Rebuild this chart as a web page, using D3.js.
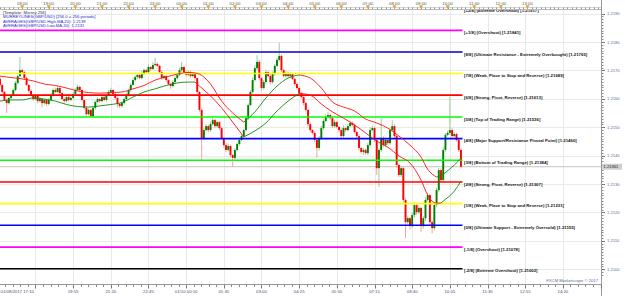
<!DOCTYPE html>
<html><head><meta charset="utf-8">
<script src="https://cdn.jsdelivr.net/npm/d3@7"></script>
<style>html,body{margin:0;padding:0;background:#fff;overflow:hidden}svg{display:block}text{font-family:"Liberation Sans",Arial,sans-serif}</style>
</head><body><svg id="c" width="625" height="296"></svg>
<script>
// ---------------- DATA ----------------
const startTime = "2017-01-09 17:10";      // first 5-minute candle
const candleMinutes = 5;
// prices are stored as 1e-5 units above 1.20000 (e.g. 1649 -> 1.21649)
const opens = [1670,1649,1624,1596,1585,1603,1613,1631,1656,1680,
 1701,1694,1673,1649,1628,1613,1599,1610,1592,1599,
 1585,1596,1582,1596,1613,1631,1624,1638,1620,1599,
 1592,1606,1596,1603,1617,1631,1642,1631,1596,1568,
 1546,1561,1539,1568,1589,1599,1592,1606,1596,1613,
 1624,1631,1617,1603,1582,1575,1585,1599,1613,1631,
 1649,1666,1677,1684,1673,1691,1701,1694,1712,1705,
 1719,1723,1716,1694,1673,1680,1666,1652,1645,1659,
 1673,1684,1701,1712,1694,1684,1694,1680,1687,1673,
 1624,1561,1462,1490,1504,1490,1511,1525,1504,1518,
 1497,1462,1437,1420,1434,1402,1392,1420,1441,1455,
 1469,1490,1532,1578,1624,1666,1708,1730,1673,1638,
 1659,1694,1680,1659,1687,1716,1737,1751,1701,1680,
 1691,1680,1687,1670,1652,1638,1620,1606,1585,1561,
 1511,1490,1480,1455,1427,1462,1497,1522,1536,1543,
 1532,1504,1518,1501,1490,1469,1497,1490,1504,1515,
 1508,1483,1469,1427,1413,1420,1409,1437,1490,1497,
 1455,1356,1420,1462,1437,1455,1444,1490,1504,1469,
 1367,1332,1356,1244,1166,1180,1152,1191,1226,1201,
 1216,1152,1180,1244,1261,1166,1145,1226,1279,1349,
 1314,1420,1473,1480,1490,1469,1476,1455,1420];
const closes = [1649,1624,1596,1585,1603,1613,1631,1656,1680,1701,
 1694,1673,1649,1628,1613,1599,1610,1592,1599,1585,
 1596,1582,1596,1613,1631,1624,1638,1620,1599,1592,
 1606,1596,1603,1617,1631,1642,1631,1596,1568,1546,
 1561,1539,1568,1589,1599,1592,1606,1596,1613,1624,
 1631,1617,1603,1582,1575,1585,1599,1613,1631,1649,
 1666,1677,1684,1673,1691,1701,1694,1712,1705,1719,
 1723,1716,1694,1673,1680,1666,1652,1645,1659,1673,
 1684,1701,1712,1694,1684,1694,1680,1687,1673,1624,
 1561,1462,1490,1504,1490,1511,1525,1504,1518,1497,
 1462,1437,1420,1434,1402,1392,1420,1441,1455,1469,
 1490,1532,1578,1624,1666,1708,1730,1673,1638,1659,
 1694,1680,1659,1687,1716,1737,1751,1701,1680,1691,
 1680,1687,1670,1652,1638,1620,1606,1585,1561,1511,
 1490,1480,1455,1427,1462,1497,1522,1536,1543,1532,
 1504,1518,1501,1490,1469,1497,1490,1504,1515,1508,
 1483,1469,1427,1413,1420,1409,1437,1490,1497,1455,
 1356,1420,1462,1437,1455,1444,1490,1504,1469,1367,
 1332,1356,1244,1166,1180,1152,1191,1226,1201,1216,
 1152,1180,1244,1261,1166,1145,1226,1279,1349,1314,
 1420,1473,1480,1490,1469,1476,1455,1420,1361];
// wick length above the body / below the body (same units)
const wickUp = [8,5,4,6,5,4,6,7,5,46, 6,4,5,3,6,4,5,3,7,4, 5,4,6,7,5,8,6,4,3,5, 6,4,5,7,6,8,5,4,3,5,
 6,4,7,5,6,4,5,3,6,7, 8,4,3,5,4,6,5,7,5,6, 7,5,6,4,8,6,5,9,4,10, 21,5,4,6,5,3,4,5,6,7,
 6,8,18,5,4,6,5,7,4,3, 4,6,8,6,5,9,7,5,6,4, 5,4,6,8,5,4,6,5,7,6, 5,8,6,7,9,10,24,6,5,7,
 8,5,6,9,7,8,46,5,6,7, 5,6,4,5,6,4,5,3,4,5, 6,4,5,3,7,8,6,9,10,5, 6,8,5,4,6,9,5,7,8,6,
 5,4,6,4,7,5,8,10,9,5, 4,6,70,6,7,5,9,21,6,4, 5,7,4,6,8,5,9,10,6,8, 5,7,9,8,5,6,10,9,8,6,
 10,7,8,116,8,6,5,4,5];
const wickDown = [6,5,4,35,5,6,4,5,6,4, 5,6,4,7,5,6,4,8,5,15, 6,8,5,4,6,5,4,7,6,8, 5,6,4,5,6,4,7,5,6,8,
 5,3,6,7,5,6,4,5,6,4, 5,6,4,12,8,5,6,4,5,6, 4,5,6,4,5,7,4,5,6,4, 5,6,4,7,5,6,4,10,5,6,
 4,5,6,7,5,4,6,5,8,6, 7,77,6,5,8,6,5,7,6,8, 6,9,7,5,8,32,6,5,7,4, 6,5,7,4,6,5,7,8,9,5,
 6,5,8,6,5,4,6,7,5,6, 5,6,4,7,5,6,5,8,6,9, 7,6,8,35,9,6,5,4,6,5, 7,6,5,8,6,5,7,4,5,6,
 5,8,9,6,10,5,7,6,5,8, 24,66,7,8,6,7,6,5,8,9, 8,7,9,56,8,12,6,8,10,7, 21,8,9,6,12,18,7,6,8,9,
 7,6,5,6,8,5,6,7,6];
// moving averages (High / Low), sampled at candle indices
const maIndex = [0,5,10,15,20,25,30,35,40,45,50,55,60,65,70,75,80,85,88,90,95,100,105,110,115,120,125,130,135,140,145,150,155,160,165,170,175,180,185,190,193,195,197,199,200,205,208];
const maHigh = [1680,1675,1670,1663,1652,1647,1638,1628,1622,1620,1622,1624,1635,1647,1666,1677,1687,1693,1691,1687,1652,1592,1550,1518,1554,1603,1645,1673,1684,1673,1638,1589,1571,1557,1529,1515,1497,1469,1437,1395,1352,1335,1325,1330,1335,1367,1390];
const maLow = [1592,1596,1596,1603,1599,1592,1580,1573,1571,1575,1580,1587,1606,1624,1635,1647,1656,1659,1659,1645,1610,1568,1518,1466,1487,1515,1557,1592,1619,1613,1582,1554,1532,1508,1480,1451,1430,1399,1374,1314,1261,1240,1233,1233,1240,1275,1310];
// trend of each segment (d = down/red, u = up/green)
const maHighTrend = ["d","d","d","d","d","d","d","d","d","d","d","d","d","d","d","d","d","d","d","d","d","d","d","u","u","u","u","u","d","d","d","d","d","d","d","d","d","d","d","d","d","d","u","u","u","u"];
const maLowTrend  = ["u","u","u","u","u","u","u","u","u","u","u","u","u","u","u","u","u","u","d","d","d","d","d","u","u","u","u","u","d","d","d","d","d","d","d","d","d","d","d","d","d","d","d","u","u","u"];
// Murrey math levels
const levelNames = ["[+2/8] (Extreme Overshoot)","[+1/8] (Overshoot)","[8/8] (Ultimate Resistance - Extremely Overbought)","[7/8] (Weak, Place to Stop and Reverse)","[6/8] (Strong, Pivot, Reverse)","[5/8] (Top of Trading Range)","[4/8] (Major Support/Resistance Pivotal Point)","[3/8] (Bottom of Trading Range)","[2/8] (Strong, Pivot, Reverse)","[1/8] (Weak, Place to Stop and Reverse)","[0/8] (Ultimate Support - Extremely Oversold)","[-1/8] (Overshoot)","[-2/8] (Extreme Overshoot)"];
const levelPrices = [1.21917,1.21841,1.21765,1.21689,1.21613,1.21536,1.21460,1.21384,1.21307,1.21231,1.21155,1.21078,1.21002];
const levelColors = ["#000000","#ff00ff","#0000cc","#ffff00","#ff0000","#00ff00","#0000ff","#00ff00","#ff0000","#ffff00","#0000ff","#ff00ff","#000000"];
const priceTicks = [1.2100,1.2110,1.2120,1.2130,1.2140,1.2150,1.2160,1.2170,1.2180,1.2190];
const lastPrice = 1.21361;
const hourLabels = ["18:00","19:00","20:00","21:00","22:00","23:00","00:00","01:00","02:00","03:00","04:00","05:00","06:00","07:00","08:00","09:00","10:00","11:00","12:00","13:00"];
const hourTimes = ["2017-01-09 18:00","2017-01-09 19:00","2017-01-09 20:00","2017-01-09 21:00","2017-01-09 22:00","2017-01-09 23:00","2017-01-10 00:00","2017-01-10 01:00","2017-01-10 02:00","2017-01-10 03:00","2017-01-10 04:00","2017-01-10 05:00","2017-01-10 06:00","2017-01-10 07:00","2017-01-10 08:00","2017-01-10 09:00","2017-01-10 10:00","2017-01-10 11:00","2017-01-10 12:00","2017-01-10 13:00"];
const dateLabels = ["01/09/2017 17:10","19:55","21:20","22:45","01/10 00:10","01:35","03:00","04:25","05:50","07:15","08:40","10:05","11:30","12:55","14:20"];
const dateTimes = ["2017-01-09 17:10","2017-01-09 19:55","2017-01-09 21:20","2017-01-09 22:45","2017-01-10 00:10","2017-01-10 01:35","2017-01-10 03:00","2017-01-10 04:25","2017-01-10 05:50","2017-01-10 07:15","2017-01-10 08:40","2017-01-10 10:05","2017-01-10 11:30","2017-01-10 12:55","2017-01-10 14:20"];
const legendLines = ["[Template: Murrey 256]","MURREYLINES(GBP/USD) [256.0 = 256 periods]","AVERAGES(GBP/USD.High,MA,20): 1.2139","AVERAGES(GBP/USD.Low,MA,20): 1.2131"];
const footer = "FXCM Marketscope \u00A9 2017";

// ---------------- LAYOUT ----------------
const svg = d3.select("#c");
const plot = {l:0, r:601, t:10, b:284};
const parse = d3.timeParse("%Y-%m-%d %H:%M");
const t0 = parse(startTime);
const tEnd = d3.timeMinute.offset(t0, 1356);
const x = d3.scaleTime().domain([t0, tEnd]).range([plot.l, plot.r]);
const y = d3.scaleLinear().domain([1.2100, 1.2180]).range([269.3, 42]);
const P = v => 1.2 + v / 1e5;

svg.append("rect").attr("width",625).attr("height",296).attr("fill","#fff");
svg.append("defs").append("clipPath").attr("id","clip").append("rect")
  .attr("x",plot.l).attr("y",plot.t).attr("width",plot.r-plot.l).attr("height",plot.b-plot.t);
const g = svg.append("g").attr("clip-path","url(#clip)");

// grid
const gridStart = parse("2017-01-09 18:30");
const gridTimes = d3.range(0, 16).map(k => d3.timeMinute.offset(gridStart, k*85));
g.selectAll(".vg").data(gridTimes).join("line")
  .attr("x1",d=>Math.round(x(d))+0.5).attr("x2",d=>Math.round(x(d))+0.5)
  .attr("y1",plot.t).attr("y2",plot.b).attr("stroke","#e9e9e9").attr("stroke-width",1);
g.selectAll(".hg").data(priceTicks).join("line")
  .attr("x1",plot.l).attr("x2",plot.r)
  .attr("y1",d=>Math.round(y(d))+0.5).attr("y2",d=>Math.round(y(d))+0.5)
  .attr("stroke","#e9e9e9").attr("stroke-width",1);
// last price line
g.append("line").attr("x1",plot.l).attr("x2",plot.r)
  .attr("y1",y(lastPrice)).attr("y2",y(lastPrice)).attr("stroke","#c4c4c4").attr("stroke-width",1);

// candles
const candles = closes.map((c,i)=>({
  t: d3.timeMinute.offset(t0, i*candleMinutes),
  o: P(opens[i]), c: P(c),
  h: P(Math.max(opens[i], c) + wickUp[i]),
  l: P(Math.min(opens[i], c) - wickDown[i])
}));
const cg = g.append("g");
cg.selectAll(".wick").data(candles).join("line")
  .attr("x1",d=>x(d.t)).attr("x2",d=>x(d.t))
  .attr("y1",d=>y(d.h)).attr("y2",d=>y(d.l))
  .attr("stroke",d=>d.c>=d.o?"#8cc88c":"#f29a9a").attr("stroke-width",0.9);
cg.selectAll(".body").data(candles).join("rect")
  .attr("x",d=>x(d.t)-0.95).attr("width",1.9)
  .attr("y",d=>y(Math.max(d.o,d.c)))
  .attr("height",d=>Math.max(0.7, Math.abs(y(d.o)-y(d.c))))
  .attr("fill",d=>d.c>=d.o?"#008000":"#ff0000");

// level lines
const levels = levelPrices.map((p,i)=>({p, name: levelNames[i], color: levelColors[i]}));
g.selectAll(".lvl").data(levels).join("line")
  .attr("x1",plot.l).attr("x2",462.5)
  .attr("y1",d=>y(d.p)).attr("y2",d=>y(d.p))
  .attr("stroke",d=>d.color).attr("stroke-width",1.6);

// moving averages
const maDraw = (vals, trend) => {
  const pts = maIndex.map((idx,k)=>({t:d3.timeMinute.offset(t0, idx*candleMinutes), v:P(vals[k])}));
  const runs = [];
  let cur = null;
  trend.forEach((tr,k)=>{
    if(!cur || cur.tr!==tr){ cur = {tr, pts:[pts[k]]}; runs.push(cur); }
    cur.pts.push(pts[k+1]);
  });
  const line = d3.line().x(d=>x(d.t)).y(d=>y(d.v)).curve(d3.curveMonotoneX);
  g.append("g").selectAll("path").data(runs).join("path")
    .attr("d",r=>line(r.pts)).attr("fill","none")
    .attr("stroke",r=>r.tr==="u"?"#0a8a0a":"#ff1010").attr("stroke-width",0.9);
};
maDraw(maHigh, maHighTrend);
maDraw(maLow, maLowTrend);

// level labels
g.selectAll(".lt").data(levels).join("text")
  .attr("x",464).attr("y",d=>y(d.p)+3.6)
  .attr("font-size",4.3).attr("font-weight","bold").attr("fill","#111")
  .text(d=>`${d.name} [${d.p.toFixed(5)}]`);

// legend
g.selectAll(".lg").data(legendLines).join("text")
  .attr("x",3).attr("y",(d,i)=>14+i*4.4)
  .attr("font-size",4.2).attr("fill",(d,i)=>i===0?"#333":"#2a2ad0")
  .text(d=>d);

// frame
svg.append("line").attr("x1",0).attr("x2",plot.r).attr("y1",plot.t-0.5).attr("y2",plot.t-0.5).attr("stroke","#b8b8b8");
svg.append("line").attr("x1",0).attr("x2",plot.r).attr("y1",plot.b+0.5).attr("y2",plot.b+0.5).attr("stroke","#9a9a9a");
svg.append("line").attr("x1",plot.r+0.5).attr("x2",plot.r+0.5).attr("y1",0).attr("y2",296).attr("stroke","#9a9a9a");

// top time ruler
const topMinor = d3.range(0, 140).map(k=>d3.timeMinute.offset(t0, k*10-10)).filter(d=>x(d)>=0 && x(d)<=plot.r);
svg.selectAll(".tmn").data(topMinor).join("line")
  .attr("x1",d=>Math.round(x(d))+0.5).attr("x2",d=>Math.round(x(d))+0.5)
  .attr("y1",7).attr("y2",9).attr("stroke","#999");
svg.append("line").attr("x1",0).attr("x2",plot.r).attr("y1",7.5).attr("y2",7.5).attr("stroke","#bbb").attr("stroke-width",0.6);
const hours = hourTimes.map((t,i)=>({t:parse(t), label:hourLabels[i]}));
svg.selectAll(".htri").data(hours).join("path")
  .attr("d",d=>{const cx=x(d.t);return `M${cx-2},${5.2}L${cx+2},${5.2}L${cx},${9}Z`;})
  .attr("fill","#f0a020");
svg.selectAll(".hl").data(hours).join("text")
  .attr("x",d=>x(d.t)).attr("y",4.6).attr("text-anchor","middle")
  .attr("font-size",4.3).attr("fill","#555").text(d=>d.label);

// bottom time axis
const botMinor = d3.range(-5, 80).map(k=>d3.timeMinute.offset(gridStart, k*17)).filter(d=>x(d)>=0 && x(d)<=plot.r);
svg.selectAll(".bmn").data(botMinor).join("line")
  .attr("x1",d=>Math.round(x(d))+0.5).attr("x2",d=>Math.round(x(d))+0.5)
  .attr("y1",plot.b+1).attr("y2",plot.b+3).attr("stroke","#888");
svg.selectAll(".bmj").data(gridTimes.filter(d=>x(d)<=plot.r)).join("line")
  .attr("x1",d=>Math.round(x(d))+0.5).attr("x2",d=>Math.round(x(d))+0.5)
  .attr("y1",plot.b+1).attr("y2",plot.b+4.5).attr("stroke","#777");
const dates = dateTimes.map((t,i)=>({t:parse(t), label:dateLabels[i]}));
svg.selectAll(".dl").data(dates).join("text")
  .attr("x",(d,i)=>i===0?0.5:x(d.t)).attr("y",293)
  .attr("text-anchor",(d,i)=>i===0?"start":"middle")
  .attr("font-size",4.3).attr("fill","#4a4a7a").text(d=>d.label);

// right price axis
const minorP = d3.range(0, 92).map(k=>1.2098 + k*0.0001).filter(p=>y(p)>=plot.t && y(p)<=plot.b);
svg.selectAll(".pmn").data(minorP).join("line")
  .attr("x1",plot.r+1).attr("x2",plot.r+2.5)
  .attr("y1",d=>Math.round(y(d))+0.5).attr("y2",d=>Math.round(y(d))+0.5).attr("stroke","#888");
svg.selectAll(".pmj").data(priceTicks).join("line")
  .attr("x1",plot.r+1).attr("x2",plot.r+4)
  .attr("y1",d=>Math.round(y(d))+0.5).attr("y2",d=>Math.round(y(d))+0.5).attr("stroke","#777");
svg.selectAll(".pl").data(priceTicks).join("text")
  .attr("x",plot.r+6).attr("y",d=>y(d)+1.5)
  .attr("font-size",4.1).attr("fill","#5b6aa0").text(d=>d.toFixed(4));
svg.append("rect").attr("x",plot.r+1).attr("y",y(lastPrice)-3).attr("width",20).attr("height",6).attr("fill","#cfcfcf");
svg.append("text").attr("x",plot.r+2.5).attr("y",y(lastPrice)+1.6)
  .attr("font-size",4.1).attr("fill","#222").text(lastPrice.toFixed(5));

// footer
svg.append("text").attr("x",plot.r-3).attr("y",282).attr("text-anchor","end")
  .attr("font-size",4.2).attr("fill","#5b6aa0").text(footer);
</script></body></html>
